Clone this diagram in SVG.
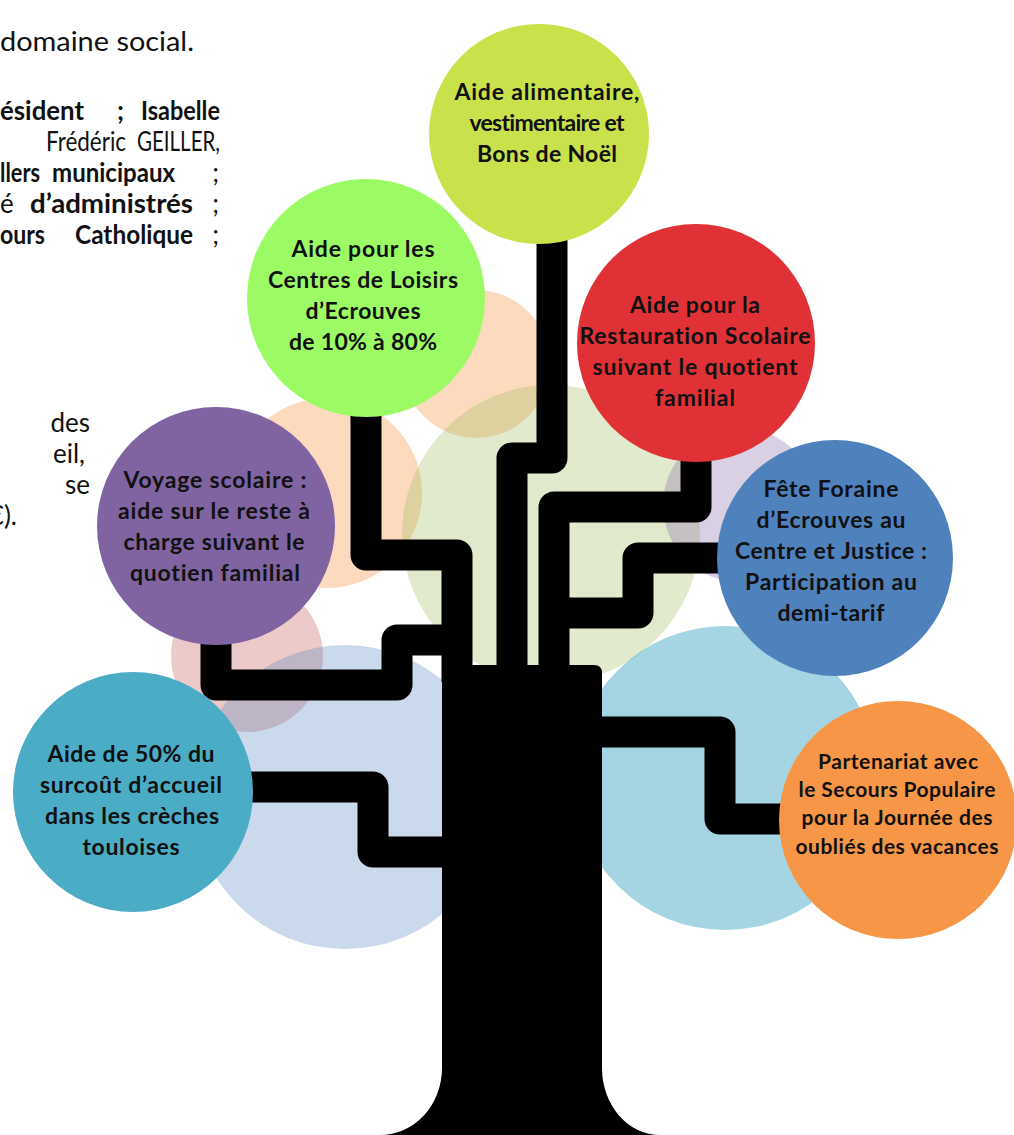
<svg xmlns="http://www.w3.org/2000/svg" width="1014" height="1135" viewBox="0 0 1014 1135">
<style>
text{font-variant-ligatures:none;font-feature-settings:"liga" 0}
.br{fill:none;stroke:#000;stroke-width:31;stroke-linejoin:round}
.lbl{font-family:Lato,"Liberation Sans",sans-serif;font-weight:700;font-size:23px;fill:#111;text-anchor:middle}
.lbls{font-size:21px}
.p{font-family:Lato,"Liberation Sans",sans-serif;font-size:26px;fill:#111}
.b{font-weight:700}
.e{text-anchor:end}
</style>
<rect width="1014" height="1135" fill="#fff"/>
<g id="background">
<circle cx="476" cy="364" r="74" fill="#F79646" fill-opacity="0.35"/>
<circle cx="327" cy="493" r="95" fill="#F79646" fill-opacity="0.35"/>
<circle cx="551" cy="534" r="149" fill="#9BBB59" fill-opacity="0.3"/>
<circle cx="740" cy="505" r="77" fill="#8064A2" fill-opacity="0.3"/>
<circle cx="247" cy="656" r="76" fill="#C0504D" fill-opacity="0.3"/>
<circle cx="345" cy="797" r="152" fill="#4F81BD" fill-opacity="0.3"/>
<circle cx="725" cy="778" r="152" fill="#4BACC6" fill-opacity="0.5"/>
</g>
<g id="paragraph">
<text class="p" x="0" y="51" textLength="194" lengthAdjust="spacingAndGlyphs">domaine social.</text>
<text class="p b" x="0" y="120" textLength="84" lengthAdjust="spacingAndGlyphs">ésident</text>
<text class="p b" x="117" y="120">;</text>
<text class="p b" x="141" y="120" textLength="79" lengthAdjust="spacingAndGlyphs">Isabelle</text>
<text class="p" x="46" y="151" textLength="80" lengthAdjust="spacingAndGlyphs">Frédéric</text>
<text class="p" x="137" y="151" textLength="83" lengthAdjust="spacingAndGlyphs">GEILLER,</text>
<text class="p b" x="0" y="182" textLength="40" lengthAdjust="spacingAndGlyphs">llers</text>
<text class="p b" x="52" y="182" textLength="123" lengthAdjust="spacingAndGlyphs">municipaux</text>
<text class="p e" x="219" y="182">;</text>
<text class="p" x="0" y="213">é</text>
<text class="p b" x="30" y="213" textLength="163" lengthAdjust="spacingAndGlyphs">d’administrés</text>
<text class="p e" x="219" y="213">;</text>
<text class="p b" x="0" y="244" textLength="45" lengthAdjust="spacingAndGlyphs">ours</text>
<text class="p b" x="75" y="244" textLength="118" lengthAdjust="spacingAndGlyphs">Catholique</text>
<text class="p e" x="219" y="244">;</text>
<text class="p e" x="90" y="432">des</text>
<text class="p e" x="85" y="463">eil,</text>
<text class="p e" x="90" y="494">se</text>
<text class="p e" x="17" y="525">€).</text>
</g>
<g id="connectors">
<path class="br" d="M552,230 L552,458 L512,458 L512,682"/>
<path class="br" d="M366,400 L366,555 L457,555 L457,682"/>
<path class="br" d="M696,450 L696,507 L554,507 L554,682"/>
<path class="br" d="M730,558 L638,558 L638,613 L554,613"/>
<path class="br" d="M216,630 L216,685 L397,685 L397,640 L460,640"/>
<path class="br" d="M240,787 L373,787 L373,852 L460,852"/>
<path class="br" d="M590,732 L720,732 L720,819 L790,819"/>
</g>
<g id="trunk">
<path d="M442,665 L594,665 Q602,665 602,673 L602,1068 A58,67 0 0 0 660,1135 L660,1136 L380,1136 L380,1135 A62,67 0 0 0 442,1068 Z" fill="#000"/>
</g>
<g id="node-alimentaire">
<circle cx="539" cy="134" r="110" fill="#C9E14A"/>
<text class="lbl" x="547" y="100" textLength="185">Aide alimentaire,</text>
<text class="lbl" x="547" y="131" textLength="155">vestimentaire et</text>
<text class="lbl" x="547" y="162" textLength="140">Bons de Noël</text>
</g>
<g id="node-loisirs">
<circle cx="366" cy="298" r="119" fill="#9CFB65"/>
<text class="lbl" x="363" y="257" textLength="143">Aide pour les</text>
<text class="lbl" x="363" y="288" textLength="190">Centres de Loisirs</text>
<text class="lbl" x="363" y="319" textLength="115">d’Ecrouves</text>
<text class="lbl" x="363" y="350" textLength="148">de 10% à 80%</text>
</g>
<g id="node-restauration">
<circle cx="696" cy="343" r="119" fill="#E03236"/>
<text class="lbl" x="695" y="313" textLength="130">Aide pour la</text>
<text class="lbl" x="695" y="344" textLength="231">Restauration Scolaire</text>
<text class="lbl" x="695" y="375" textLength="205">suivant le quotient</text>
<text class="lbl" x="695" y="406" textLength="80">familial</text>
</g>
<g id="node-voyage">
<circle cx="216" cy="526" r="119" fill="#8064A2"/>
<text class="lbl" x="215" y="488" textLength="183">Voyage scolaire :</text>
<text class="lbl" x="214" y="519" textLength="192">aide sur le reste à</text>
<text class="lbl" x="214" y="550" textLength="181">charge suivant le</text>
<text class="lbl" x="215" y="581" textLength="170">quotien familial</text>
</g>
<g id="node-fete">
<circle cx="835" cy="558" r="118" fill="#4F81BD"/>
<text class="lbl" x="831" y="497" textLength="135">Fête Foraine</text>
<text class="lbl" x="831" y="528" textLength="149">d’Ecrouves au</text>
<text class="lbl" x="831" y="559" textLength="192">Centre et Justice :</text>
<text class="lbl" x="831" y="590" textLength="172">Participation au</text>
<text class="lbl" x="831" y="621" textLength="107">demi-tarif</text>
</g>
<g id="node-creches">
<circle cx="133" cy="792" r="120" fill="#4BACC6"/>
<text class="lbl" x="131" y="762" textLength="167">Aide de 50% du</text>
<text class="lbl" x="131" y="793" textLength="182">surcoût d’accueil</text>
<text class="lbl" x="132" y="824" textLength="174">dans les crèches</text>
<text class="lbl" x="131" y="855" textLength="97">touloises</text>
</g>
<g id="node-secours">
<circle cx="898" cy="820" r="119" fill="#F79646"/>
<text class="lbl lbls" x="898" y="769" textLength="160">Partenariat avec</text>
<text class="lbl lbls" x="897" y="797" textLength="197">le Secours Populaire</text>
<text class="lbl lbls" x="897" y="825" textLength="191">pour la Journée des</text>
<text class="lbl lbls" x="897" y="854" textLength="203">oubliés des vacances</text>
</g>
</svg>
